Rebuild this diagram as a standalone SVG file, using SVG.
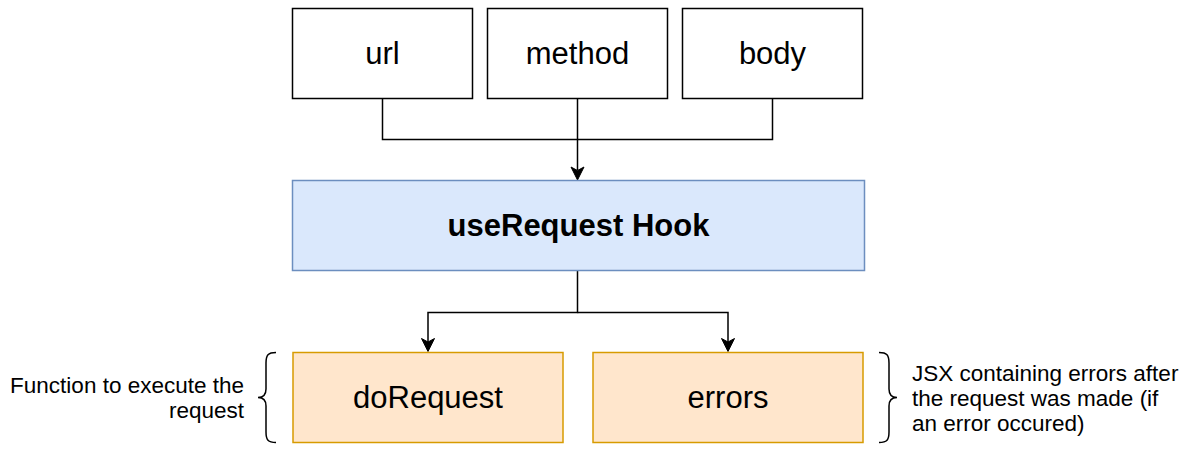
<svg xmlns="http://www.w3.org/2000/svg" width="1187" height="452" viewBox="0 0 1187 452">
<style>
.box{fill:#ffffff;stroke:#000000;stroke-width:1.5}
.hook{fill:#dae8fc;stroke:#6c8ebf;stroke-width:1.5}
.out{fill:#ffe6cc;stroke:#d79b00;stroke-width:1.5}
.lbl{font-family:"Liberation Sans",Arial,sans-serif;font-size:31px;fill:#000;text-anchor:middle}
.b{font-weight:bold}
.note{font-family:"Liberation Sans",Arial,sans-serif;font-size:22.5px;fill:#000}
.edge{fill:none;stroke:#000;stroke-width:1.5}
.head{fill:#000;stroke:#000;stroke-width:1}
.brace{fill:none;stroke:#000;stroke-width:1.5}
</style>
<g id="connectors">
<path class="edge" d="M382.5,98.5 V139.5 H577.5"/>
<path class="edge" d="M772.5,98.5 V139.5 H577.5"/>
<path class="edge" d="M577.5,98.5 V170"/>
<path class="head" d="M577.5,180 L571,167 L577.5,170.5 L584,167 Z"/>
<path class="edge" d="M577.5,270.5 V312.5 H428 V342"/>
<path class="edge" d="M577.5,312.5 H728 V342"/>
<path class="head" d="M428,351.5 L421.5,338.5 L428,342 L434.5,338.5 Z"/>
<path class="head" d="M728,351.5 L721.5,338.5 L728,342 L734.5,338.5 Z"/>
</g>
<g id="url"><rect class="box" x="292.5" y="8.5" width="180" height="90"/><text class="lbl" x="382.5" y="64">url</text></g>
<g id="method"><rect class="box" x="487.5" y="8.5" width="180" height="90"/><text class="lbl" x="577.5" y="64">method</text></g>
<g id="body"><rect class="box" x="682.5" y="8.5" width="180" height="90"/><text class="lbl" x="772.5" y="64">body</text></g>
<g id="useRequestHook"><rect class="hook" x="292.5" y="180.5" width="572" height="90"/><text class="lbl b" x="578.5" y="236">useRequest Hook</text></g>
<g id="doRequest"><rect class="out" x="293" y="352.5" width="270" height="90"/><text class="lbl" x="428" y="408">doRequest</text></g>
<g id="errors"><rect class="out" x="593" y="352.5" width="270" height="90"/><text class="lbl" x="728" y="408">errors</text></g>
<g id="doRequestNote">
<path class="brace" d="M276,352.5 C268,352.5 266,355 266,363 L266,389 C266,395 263,397.5 258,397.5 C263,397.5 266,400 266,406 L266,432 C266,440 268,442.5 276,442.5"/>
<text class="note" text-anchor="end"><tspan x="244" y="393">Function to execute the</tspan><tspan x="244" y="418">request</tspan></text>
</g>
<g id="errorsNote">
<path class="brace" d="M879,352.5 C887,352.5 889,355 889,363 L889,389 C889,395 892,397.5 897,397.5 C892,397.5 889,400 889,406 L889,432 C889,440 887,442.5 879,442.5"/>
<text class="note"><tspan x="912" y="381">JSX containing errors after</tspan><tspan x="912" y="406">the request was made (if</tspan><tspan x="912" y="431">an error occured)</tspan></text>
</g>
</svg>
